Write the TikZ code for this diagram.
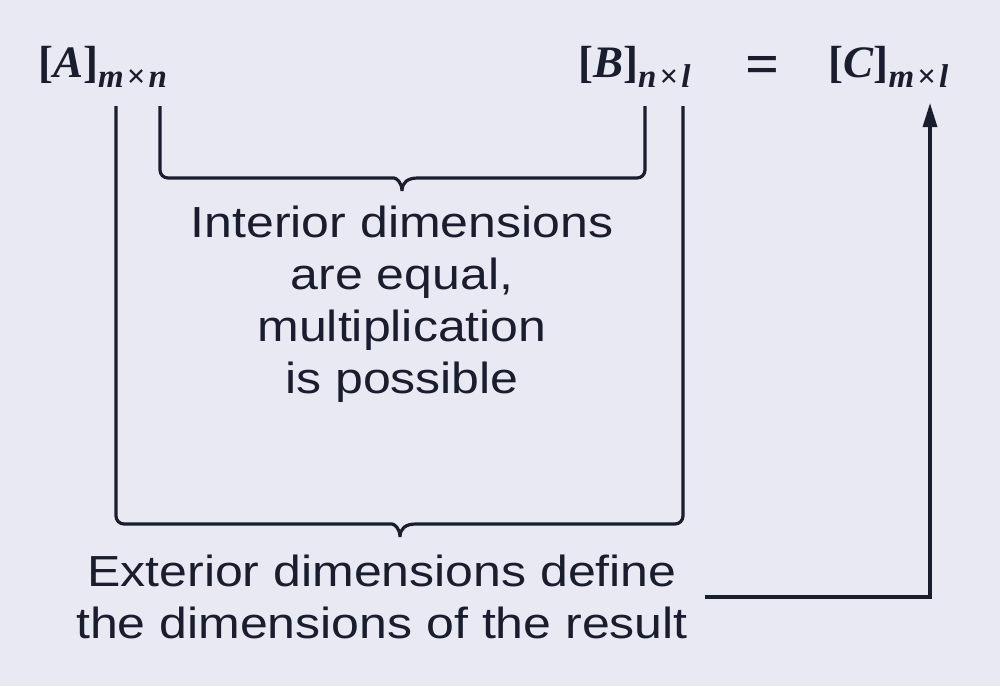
\documentclass[tikz,border=0pt]{standalone}
\usepackage{fontspec}
\setmainfont{Liberation Sans}
\newfontfamily\notefont[FakeStretch=1.15]{Liberation Sans}
\newfontfamily\matfont{Liberation Serif}
\usetikzlibrary{arrows.meta}
\definecolor{bgcol}{HTML}{E8E9F3}
\definecolor{ink}{HTML}{1A1D2D}
% [X]_{a x b} in bold Times
\newcommand{\matlabel}[3]{{\matfont\bfseries [\textit{#1}]\raisebox{-10pt}{\fontsize{33}{33}\selectfont\itshape #2\hspace{3pt}\upshape\texttimes\hspace{3pt}\itshape #3}}}

\begin{document}
\begin{tikzpicture}[x=1pt, y=-1pt,
            mat/.style={anchor=base west, inner sep=0pt, text=ink, font=\fontsize{45}{45}\selectfont},
            note/.style={align=center, text=ink, inner xsep=17pt, font=\notefont\fontsize{43.5}{52}\selectfont},
            bracket/.style={draw=ink, line width=3.2pt, rounded corners=8pt}]

            \useasboundingbox (0,0) rectangle (1000,686);
            \fill[bgcol] (0,0) rectangle (1000,686);

            \node[mat] (A) at (38,77) {\matlabel{A}{m}{n}};
            \node[mat] (B) at (578,77) {\matlabel{B}{n}{l}};
            \node[mat, anchor=center, font=\fontsize{60}{60}\selectfont] (eq) at (763,70) {\matfont\bfseries =};
            \node[mat] (C) at (828,77) {\matlabel{C}{m}{l}};

            \node[note] (inner) at (402,304) {Interior dimensions\\are equal,\\multiplication\\is possible};
            \node[note] (outer) at (382,597) {Exterior dimensions define\\the dimensions of the result};

            \coordinate (a1) at (116,106);
            \coordinate (a2) at (160,106);
            \coordinate (b1) at (645,106);
            \coordinate (b2) at (683,106);
            \coordinate (c1) at (930,103);

            % inner dimensions
            \draw[bracket] (a2) -- (160,178) -- (386,178) [sharp corners]
                .. controls (396,178) and (402,182) .. (402,191)
                .. controls (402,182) and (408,178) .. (418,178) [rounded corners=8pt] -- (645,178) -- (b1);
            % outer dimensions
            \draw[bracket] (a1) -- (116,524) -- (384,524) [sharp corners]
                .. controls (394,524) and (400,528) .. (400,537)
                .. controls (400,528) and (406,524) .. (416,524) [rounded corners=8pt] -- (683,524) -- (b2);

            \draw[draw=ink, line width=3.2pt, -{Triangle[length=24pt, width=14pt]}] (outer.east) -| (c1);

        \end{tikzpicture}
\end{document}
